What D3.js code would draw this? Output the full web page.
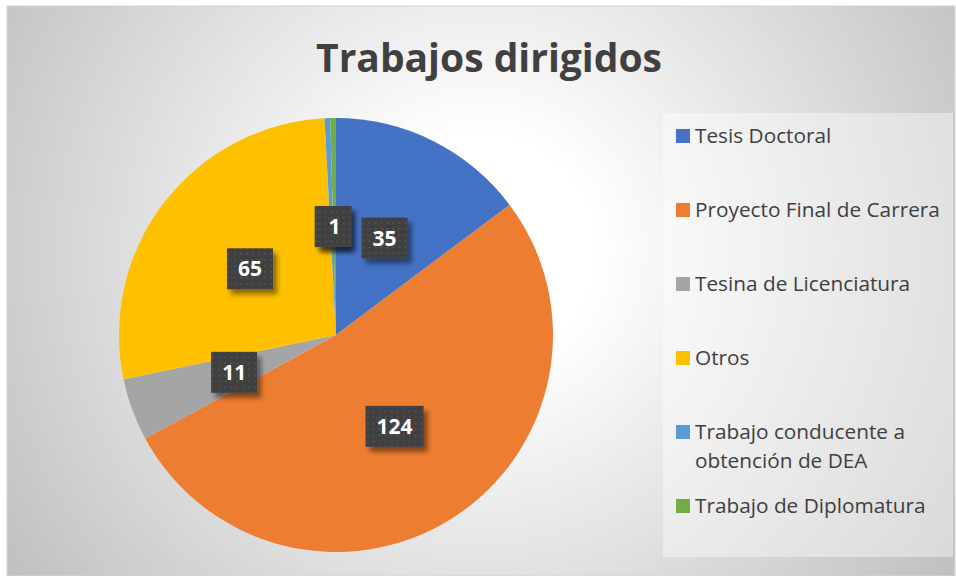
<!DOCTYPE html>
<html>
<head>
<meta charset="utf-8">
<script src="https://cdn.jsdelivr.net/npm/d3@7"></script>
<style>
  body { margin: 0; background: #fff; }
  svg { display: block; }
</style>
</head>
<body>
<script>
// chart data
const title = 'Trabajos dirigidos';
const categories = [
  'Tesis Doctoral',
  'Proyecto Final de Carrera',
  'Tesina de Licenciatura',
  'Otros',
  'Trabajo conducente a obtención de DEA',
  'Trabajo de Diplomatura'
];
const values = [35, 124, 11, 65, 1, 1];
const colors = ['#4472C4', '#ED7D31', '#A5A5A5', '#FFC000', '#5B9BD5', '#70AD47'];
// how the legend wraps each category
const legendLines = [
  ['Tesis Doctoral'],
  ['Proyecto Final de Carrera'],
  ['Tesina de Licenciatura'],
  ['Otros'],
  ['Trabajo conducente a', 'obtención de DEA'],
  ['Trabajo de Diplomatura']
];

const width = 956;
const height = 576;
const font = '"Open Sans", "Noto Sans", sans-serif';

const svg = d3.select('body').append('svg')
  .attr('width', width)
  .attr('height', height);

const defs = svg.append('defs');

const bg = defs.append('radialGradient')
  .attr('id', 'bg')
  .attr('gradientUnits', 'userSpaceOnUse')
  .attr('cx', 481).attr('cy', 250).attr('r', 570);
bg.append('stop').attr('offset', 0.2).attr('stop-color', '#ffffff');
bg.append('stop').attr('offset', 1).attr('stop-color', '#c0c0c0');

const dots = defs.append('pattern')
  .attr('id', 'dots')
  .attr('patternUnits', 'userSpaceOnUse')
  .attr('width', 6).attr('height', 6);
dots.append('rect').attr('width', 6).attr('height', 6).attr('fill', '#404040');
dots.append('rect').attr('x', 2).attr('y', 2).attr('width', 2).attr('height', 2).attr('fill', '#4f4f4f');

const shadow = defs.append('filter')
  .attr('id', 'shadow')
  .attr('x', '-30%').attr('y', '-30%')
  .attr('width', '170%').attr('height', '170%');
shadow.append('feDropShadow')
  .attr('dx', 4).attr('dy', 5)
  .attr('stdDeviation', 2.5)
  .attr('flood-color', '#000')
  .attr('flood-opacity', 0.45);

// panel
svg.append('rect')
  .attr('x', 7).attr('y', 6)
  .attr('width', 948).attr('height', 570)
  .attr('fill', 'url(#bg)')
  .attr('stroke', '#d4d4d4')
  .attr('stroke-width', 1);

// title, scaled to the reference width
const titleText = svg.append('text')
  .attr('x', 489).attr('y', 72)
  .attr('text-anchor', 'middle')
  .attr('font-family', font)
  .attr('font-weight', 'bold')
  .attr('font-size', 40)
  .attr('fill', '#404040')
  .text(title);
const tw = titleText.node().getComputedTextLength();
titleText.attr('font-size', 40 * 346 / tw);

// pie
const cx = 336;
const cy = 335;
const radius = 217;

const pie = d3.pie().sort(null).value((d) => d);
const arc = d3.arc().innerRadius(0).outerRadius(radius);
const arcs = pie(values);

const g = svg.append('g')
  .attr('transform', `translate(${cx},${cy})`);

g.selectAll('path.slice')
  .data(arcs)
  .join('path')
  .attr('class', 'slice')
  .attr('d', arc)
  .attr('fill', (d, i) => colors[i]);

// data labels (the two 1s sit on top of each other, as in the original)
const labels = g.selectAll('g.label')
  .data(arcs)
  .join('g')
  .attr('class', 'label')
  .attr('transform', (d) => `translate(${arc.centroid(d)})`);

labels.each(function (d) {
  const lab = d3.select(this);
  const t = lab.append('text')
    .attr('text-anchor', 'middle')
    .attr('dy', '0.36em')
    .attr('font-family', font)
    .attr('font-weight', 'bold')
    .attr('font-size', 21)
    .attr('fill', '#fff')
    .text(d.data);
  const w = t.node().getComputedTextLength() + 22;
  const h = 41;
  lab.insert('rect', 'text')
    .attr('x', -w / 2).attr('y', -h / 2)
    .attr('width', w).attr('height', h)
    .attr('fill', 'url(#dots)')
    .attr('filter', 'url(#shadow)');
});

// legend
svg.append('rect')
  .attr('x', 663).attr('y', 113)
  .attr('width', 290).attr('height', 444)
  .attr('fill', '#fff')
  .attr('fill-opacity', 0.4);

const legend = svg.append('g')
  .attr('font-family', font)
  .attr('fill', '#404040');

const items = legend.selectAll('g.item')
  .data(categories)
  .join('g')
  .attr('class', 'item')
  .attr('transform', (d, i) => `translate(676,${143 + i * 74})`);

items.append('rect')
  .attr('x', 0).attr('y', -14)
  .attr('width', 14).attr('height', 14)
  .attr('fill', (d, i) => colors[i]);

const itemText = items.append('text')
  .attr('x', 19)
  .attr('font-size', 20);

itemText.selectAll('tspan')
  .data((d, i) => legendLines[i])
  .join('tspan')
  .attr('x', 19)
  .attr('dy', (d, j) => (j === 0 ? 0 : 29))
  .text((d) => d);

// scale legend font so the longest line matches the reference
const probe = legend.append('text').attr('font-size', 20).text('Proyecto Final de Carrera');
const pw = probe.node().getComputedTextLength();
probe.remove();
itemText.attr('font-size', 20 * 245 / pw);
</script>
</body>
</html>
